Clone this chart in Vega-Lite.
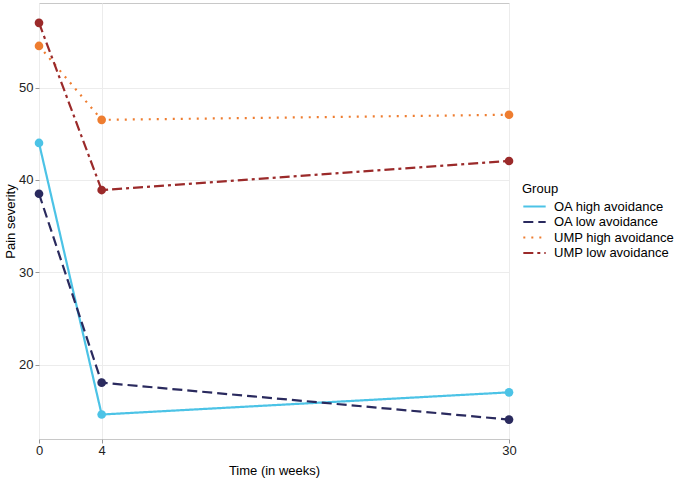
{
  "$schema": "https://vega.github.io/schema/vega-lite/v6.json",
  "autosize": {"type": "none"},
  "width": 470,
  "height": 436,
  "padding": {"left": 39, "top": 3, "right": 173, "bottom": 40},
  "background": "white",
  "config": {
    "font": "Liberation Sans",
    "view": {"stroke": "#c8c8c8", "strokeWidth": 1},
    "axis": {
      "gridColor": "#ececec",
      "gridWidth": 1,
      "domain": false,
      "tickColor": "#999999",
      "tickSize": 4,
      "labelColor": "#222222",
      "labelFontSize": 13,
      "titleFontSize": 13,
      "titleFontWeight": "normal",
      "titleColor": "#000000"
    }
  },
  "data": {
    "values": [
      {"time": 0, "value": 44.0, "group": "OA high avoidance"},
      {"time": 4, "value": 14.6, "group": "OA high avoidance"},
      {"time": 30, "value": 17.0, "group": "OA high avoidance"},
      {"time": 0, "value": 38.5, "group": "OA low avoidance"},
      {"time": 4, "value": 18.05, "group": "OA low avoidance"},
      {"time": 30, "value": 14.05, "group": "OA low avoidance"},
      {"time": 0, "value": 54.5, "group": "UMP high avoidance"},
      {"time": 4, "value": 46.5, "group": "UMP high avoidance"},
      {"time": 30, "value": 47.05, "group": "UMP high avoidance"},
      {"time": 0, "value": 57.0, "group": "UMP low avoidance"},
      {"time": 4, "value": 38.9, "group": "UMP low avoidance"},
      {"time": 30, "value": 42.05, "group": "UMP low avoidance"}
    ]
  },
  "encoding": {
    "x": {
      "field": "time",
      "type": "quantitative",
      "scale": {"domain": [0, 30], "nice": false, "zero": false},
      "axis": {"values": [0, 4, 30], "title": "Time (in weeks)", "labelPadding": 1, "titlePadding": 7, "labelFlush": false}
    },
    "y": {
      "field": "value",
      "type": "quantitative",
      "scale": {"domain": [11.95, 59.15], "nice": false, "zero": false},
      "axis": {"values": [20, 30, 40, 50], "title": "Pain severity", "labelPadding": 2, "titlePadding": 1}
    },
    "color": {
      "field": "group",
      "type": "nominal",
      "scale": {
        "domain": ["OA high avoidance", "OA low avoidance", "UMP high avoidance", "UMP low avoidance"],
        "range": ["#4cc3e6", "#2a2a5e", "#ee7d30", "#9b2a2a"]
      },
      "legend": {
        "title": "Group",
        "orient": "none",
        "legendX": 483,
        "legendY": 180,
        "titleFontSize": 13,
        "titleFontWeight": "normal",
        "titleColor": "#000000",
        "titlePadding": 3,
        "labelFontSize": 13,
        "labelColor": "#000000",
        "symbolType": "stroke",
        "symbolSize": 500,
        "symbolStrokeWidth": 2.2,
        "clipHeight": 15,
        "rowPadding": 0.5,
        "labelOffset": 7
      }
    },
    "strokeDash": {
      "field": "group",
      "type": "nominal",
      "scale": {
        "domain": ["OA high avoidance", "OA low avoidance", "UMP high avoidance", "UMP low avoidance"],
        "range": [[1, 0], [10, 5], [2, 6], [10, 4, 3, 4]]
      },
      "legend": null
    }
  },
  "layer": [
    {"mark": {"type": "line", "strokeWidth": 2.2}},
    {"mark": {"type": "point", "filled": true, "size": 75, "opacity": 1, "shape": "circle"}, "encoding": {"strokeDash": {"value": [1, 0]}}}
  ]
}
